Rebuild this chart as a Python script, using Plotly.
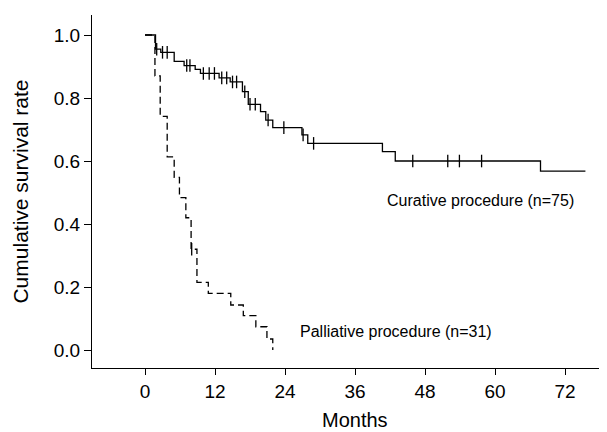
import numpy as np
import plotly.graph_objects as go

# Curative procedure (n=75) – Kaplan-Meier steps
cur_t = [0, 1.8, 2.7, 5.0, 6.7, 8.6, 9.5, 12.7, 14.6, 16.7, 17.7, 19.8, 20.7, 21.9, 26.9, 27.9, 40.7, 42.9, 67.8, 75.5]
cur_s = [1.0, 0.955, 0.945, 0.916, 0.903, 0.891, 0.878, 0.864, 0.851, 0.82, 0.78, 0.757, 0.73, 0.706, 0.683, 0.656, 0.63, 0.60, 0.568, 0.568]
cur_cens = [2.0, 3.0, 3.8, 7.15, 7.7, 10.0, 11.0, 11.9, 13.15, 14.0, 15.0, 15.7, 17.1, 18.0, 18.9,
            21.1, 23.8, 27.1, 28.9, 45.9, 51.9, 53.9, 57.7]

# Palliative procedure (n=31)
pal_t = [0, 1.7, 2.6, 3.8, 5.0, 5.9, 7.0, 7.9, 8.9, 10.85, 14.7, 16.85, 19.0, 20.9, 21.9]
pal_s = [1.0, 0.87, 0.742, 0.613, 0.548, 0.484, 0.42, 0.32, 0.215, 0.18, 0.143, 0.109, 0.074, 0.035, 0.0]
pal_cens = [8.0]

x_ticks = [0, 12, 24, 36, 48, 60, 72]
y_ticks = [0.0, 0.2, 0.4, 0.6, 0.8, 1.0]


def step_value(times, surv, t):
    idx = np.searchsorted(np.array(times), t, side="right") - 1
    return [surv[i] for i in idx]


FONT = "Liberation Sans, Arial, sans-serif"
fig = go.Figure()

fig.add_trace(go.Scatter(x=pal_t, y=pal_s, mode="lines", line_shape="hv",
                         line=dict(color="black", width=1.3, dash="7px,4px"), showlegend=False))
fig.add_trace(go.Scatter(x=pal_cens, y=step_value(pal_t, pal_s, pal_cens), mode="markers",
                         marker=dict(symbol="line-ns", size=9, line=dict(color="black", width=1.3)),
                         showlegend=False))
fig.add_trace(go.Scatter(x=cur_t, y=cur_s, mode="lines", line_shape="hv",
                         line=dict(color="black", width=1.3), showlegend=False))
fig.add_trace(go.Scatter(x=cur_cens, y=step_value(cur_t, cur_s, cur_cens), mode="markers",
                         marker=dict(symbol="line-ns", size=9, line=dict(color="black", width=1.3)),
                         showlegend=False))

fig.add_annotation(x=41.1, y=0.476, xref="x", yref="y", text="Curative procedure (n=75)",
                   showarrow=False, xanchor="left", yanchor="middle",
                   font=dict(family=FONT, size=16, color="black"))
fig.add_annotation(x=26.2, y=0.06, xref="x", yref="y", text="Palliative procedure (n=31)",
                   showarrow=False, xanchor="left", yanchor="middle",
                   font=dict(family=FONT, size=16, color="black"))
fig.add_annotation(x=36, y=-0.148, xref="x", yref="paper", text="Months",
                   showarrow=False, xanchor="center", yanchor="middle",
                   font=dict(family=FONT, size=20, color="black"))

fig.update_layout(
    width=599, height=424,
    margin=dict(l=84, r=7, t=7, b=64),
    paper_bgcolor="white", plot_bgcolor="white",
    font=dict(family=FONT, color="black"),
    xaxis=dict(range=[-9.09, 78], tickvals=x_ticks, ticktext=[str(v) for v in x_ticks],
               showgrid=False, zeroline=False, showline=True, linecolor="black", linewidth=1.3,
               ticks="outside", ticklen=6, tickwidth=1.3, tickcolor="black",
               tickfont=dict(family=FONT, size=19, color="black")),
    yaxis=dict(range=[-0.057, 1.0635], tickvals=y_ticks, ticktext=[f"{v:.1f}" for v in y_ticks],
               showgrid=False, zeroline=False, showline=True, linecolor="black", linewidth=1.3,
               ticks="outside", ticklen=7, tickwidth=1.3, tickcolor="black",
               tickfont=dict(family=FONT, size=19, color="black"),
               title=dict(text="Cumulative survival rate", standoff=19,
                          font=dict(family=FONT, size=21, color="black"))),
)

fig.write_html("out.html")
